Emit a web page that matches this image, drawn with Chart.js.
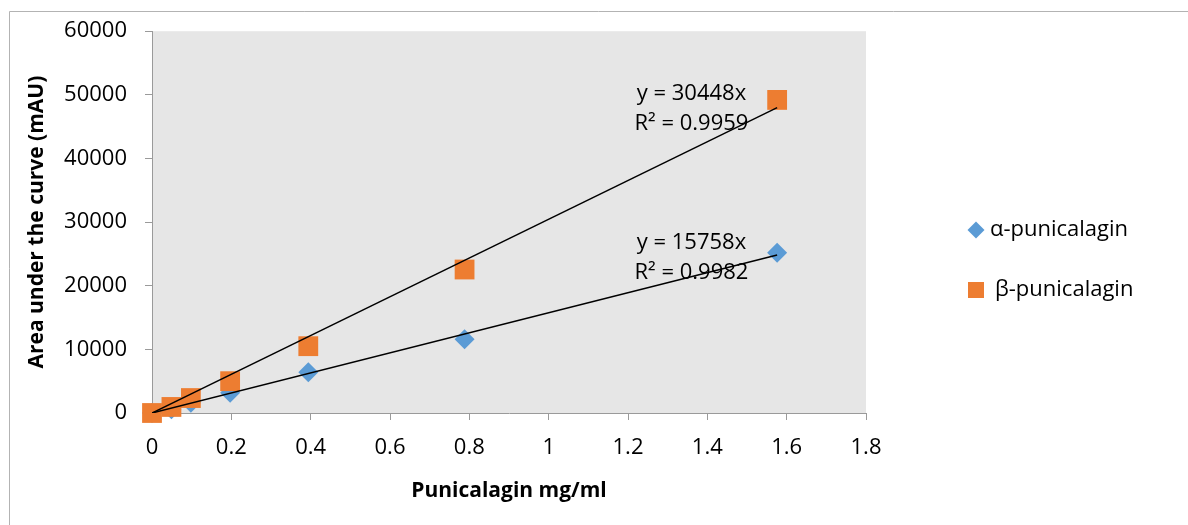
<!DOCTYPE html>
<html>
<head>
<meta charset="utf-8">
<script src="https://cdn.jsdelivr.net/npm/chart.js@4.4.0/dist/chart.umd.min.js"></script>
<style>
  html, body { margin: 0; padding: 0; background: #fff; }
  #wrap { width: 1188px; height: 525px; }
</style>
</head>
<body>
<div id="wrap"><canvas id="chart" width="1188" height="525"></canvas></div>
<script>
// values
const concentrations = [0, 0.049, 0.098, 0.197, 0.394, 0.788, 1.576];
const alphaArea = [0, 600, 1600, 3200, 6400, 11600, 25200];
const betaArea = [0, 950, 2350, 5000, 10500, 22550, 49200];
const seriesNames = ['α-punicalagin', 'β-punicalagin'];
const trendSlopes = [15758, 30448];
const trendR2 = ['0.9982', '0.9959'];
const xTickLabels = ['0', '0.2', '0.4', '0.6', '0.8', '1', '1.2', '1.4', '1.6', '1.8'];
const yTickLabels = ['0', '10000', '20000', '30000', '40000', '50000', '60000'];

const FONT = "'Open Sans', 'DejaVu Sans', sans-serif";
const BLUE = '#5b9bd5';
const ORANGE = '#ed7d31';
const AXIS = '#9a9a9a';

const toPoints = (ys) => concentrations.map((x, i) => ({ x: x, y: ys[i] }));
const xMax = Math.max(...concentrations);
const trendLine = (slope) => [
  { x: 0, y: 0 },
  { x: xMax, y: slope * xMax },
];

// where the trendline equations sit, in data units
const equationSpots = [
  { x: 1.36, y: 26800 },
  { x: 1.36, y: 50100 },
];

const plotBackground = {
  id: 'plotBackground',
  beforeDraw(chart) {
    const { ctx, chartArea: { left, top, width, height } } = chart;
    ctx.save();
    ctx.fillStyle = '#e6e6e6';
    ctx.fillRect(left, top, width, height);
    // outer frame of the chart object (right and bottom are cut off)
    ctx.strokeStyle = '#b3b3b3';
    ctx.lineWidth = 1;
    ctx.beginPath();
    ctx.moveTo(9.5, 525);
    ctx.lineTo(9.5, 11.5);
    ctx.lineTo(1188, 11.5);
    ctx.stroke();
    ctx.restore();
  },
};

const equations = {
  id: 'equations',
  afterDatasetsDraw(chart) {
    const { ctx, scales: { x, y } } = chart;
    ctx.save();
    ctx.font = '22px ' + FONT;
    ctx.fillStyle = '#000';
    ctx.textAlign = 'center';
    ctx.textBaseline = 'middle';
    trendSlopes.forEach((slope, i) => {
      const px = x.getPixelForValue(equationSpots[i].x);
      const py = y.getPixelForValue(equationSpots[i].y);
      ctx.fillText('y = ' + slope + 'x', px, py);
      ctx.fillText('R² = ' + trendR2[i], px, py + 30);
    });
    ctx.restore();
  },
};

const sideLegend = {
  id: 'sideLegend',
  afterDraw(chart) {
    const { ctx } = chart;
    ctx.save();
    ctx.font = '22px ' + FONT;
    ctx.textBaseline = 'middle';
    seriesNames.forEach((name, i) => {
      const ds = chart.data.datasets.find((d) => d.label === name);
      const cy = 230 + i * 60;
      const cx = 976;
      ctx.fillStyle = ds.backgroundColor;
      ctx.beginPath();
      if (ds.pointStyle === 'rectRot') {
        ctx.moveTo(cx - 8.5, cy);
        ctx.lineTo(cx, cy - 8.5);
        ctx.lineTo(cx + 8.5, cy);
        ctx.lineTo(cx, cy + 8.5);
        ctx.closePath();
      } else {
        ctx.rect(cx - 8, cy - 8, 16, 16);
      }
      ctx.fill();
      ctx.fillStyle = '#000';
      ctx.fillText(name, 990 + i * 5, cy);
    });
    ctx.restore();
  },
};

const config = {
  type: 'scatter',
  data: {
    datasets: [
      {
        label: 'trend ' + seriesNames[0],
        data: trendLine(trendSlopes[0]),
        showLine: true,
        borderColor: '#000',
        borderWidth: 1.5,
        pointRadius: 0,
        order: 0,
      },
      {
        label: 'trend ' + seriesNames[1],
        data: trendLine(trendSlopes[1]),
        showLine: true,
        borderColor: '#000',
        borderWidth: 1.5,
        pointRadius: 0,
        order: 0,
      },
      {
        label: seriesNames[1],
        data: toPoints(betaArea),
        pointStyle: 'rect',
        pointRadius: 14,
        backgroundColor: ORANGE,
        borderColor: ORANGE,
        borderWidth: 0,
        clip: false,
        order: 1,
      },
      {
        label: seriesNames[0],
        data: toPoints(alphaArea),
        pointStyle: 'rectRot',
        pointRadius: 10,
        backgroundColor: BLUE,
        borderColor: BLUE,
        borderWidth: 0,
        clip: false,
        order: 2,
      },
    ],
  },
  options: {
    responsive: false,
    animation: false,
    layout: {
      padding: { left: 10, right: 322, top: 30, bottom: 0 },
    },
    plugins: {
      legend: { display: false },
      tooltip: { enabled: false },
    },
    scales: {
      x: {
        type: 'linear',
        min: 0,
        max: 1.8,
        afterFit(scale) {
          scale.height = 112;
        },
        afterBuildTicks(scale) {
          scale.ticks = xTickLabels.map((t) => ({ value: parseFloat(t) }));
        },
        ticks: {
          color: '#000',
          font: { family: FONT, size: 22 },
          padding: 15,
          callback: (value, index) => xTickLabels[index],
        },
        grid: {
          drawOnChartArea: false,
          drawTicks: true,
          tickLength: 7,
          color: AXIS,
        },
        border: { display: true, color: AXIS, width: 1 },
        title: {
          display: true,
          text: 'Punicalagin mg/ml',
          color: '#000',
          font: { family: FONT, size: 21, weight: 'bold' },
          padding: { top: 0, bottom: 21 },
        },
      },
      y: {
        type: 'linear',
        min: 0,
        max: 60000,
        afterFit(scale) {
          scale.width = 142;
        },
        afterBuildTicks(scale) {
          scale.ticks = yTickLabels.map((t) => ({ value: Number(t) }));
        },
        ticks: {
          color: '#000',
          font: { family: FONT, size: 22 },
          padding: 18,
          callback: (value, index) => yTickLabels[index],
        },
        grid: {
          drawOnChartArea: false,
          drawTicks: true,
          tickLength: 7,
          color: AXIS,
        },
        border: { display: true, color: AXIS, width: 1 },
        title: {
          display: true,
          text: 'Area under the curve (mAU)',
          color: '#000',
          font: { family: FONT, size: 21, weight: 'bold' },
          padding: { top: 14, bottom: 0 },
        },
      },
    },
  },
  plugins: [plotBackground, equations, sideLegend],
};

new Chart(document.getElementById('chart').getContext('2d'), config);
</script>
</body>
</html>
